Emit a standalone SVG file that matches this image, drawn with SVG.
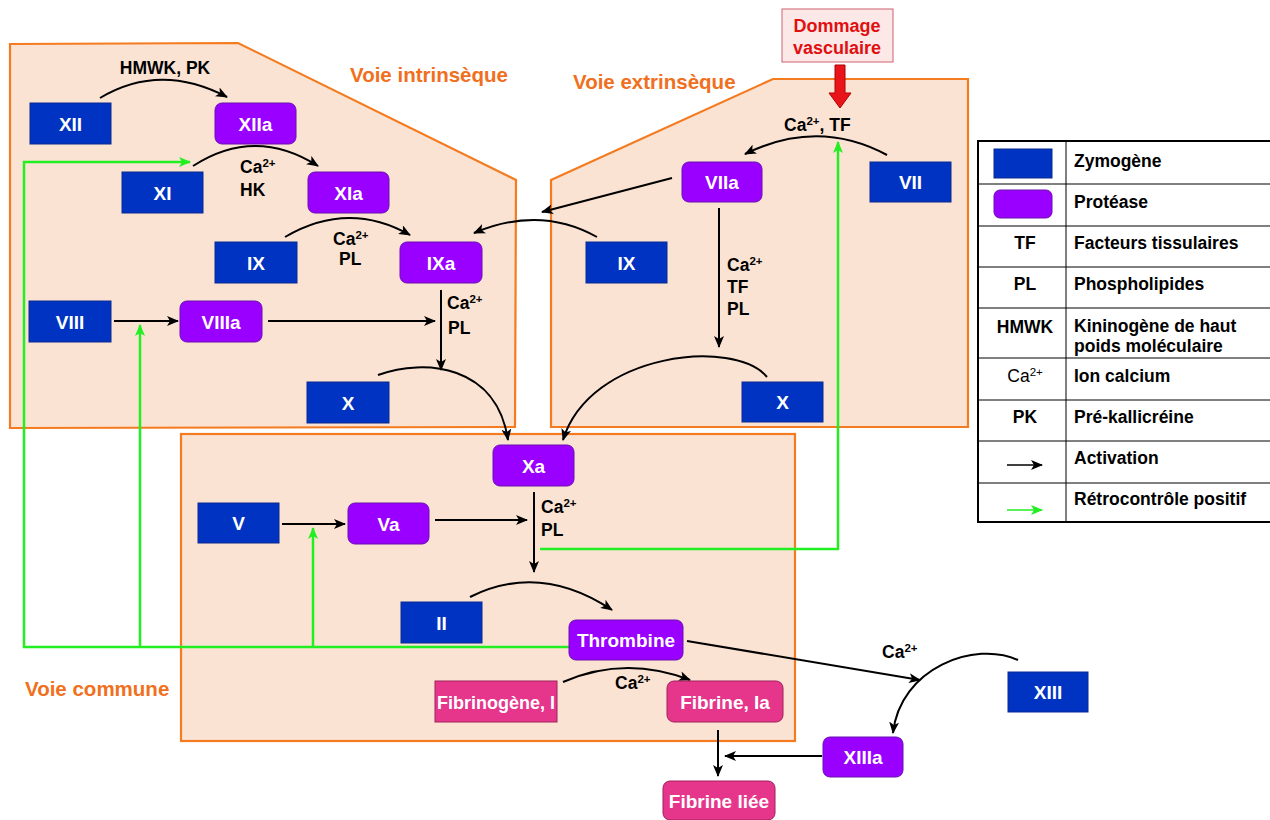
<svg xmlns="http://www.w3.org/2000/svg" width="1270" height="820" viewBox="0 0 1270 820">
<defs>
<marker id="ah" viewBox="0 0 12 10" refX="11" refY="5" markerWidth="12" markerHeight="10" markerUnits="userSpaceOnUse" orient="auto">
<path d="M0,0 L12,5 L0,10 L3,5 Z" fill="#000"/>
</marker>
<marker id="ahg" viewBox="0 0 12 10" refX="11" refY="5" markerWidth="12" markerHeight="10" markerUnits="userSpaceOnUse" orient="auto">
<path d="M0,0 L12,5 L0,10 L3,5 Z" fill="#22ee22"/>
</marker>
<style>
.region{fill:#fbe3d3;stroke:#f47b20;stroke-width:2.2}
.zym{fill:#0033c2;stroke:#0a2a90;stroke-width:1}
.pro{fill:#9900ff;stroke:#6a10b0;stroke-width:1}
.fib{fill:#e6368c;stroke:#a0205a;stroke-width:1}
.bt{font-family:"Liberation Sans",Arial,sans-serif;font-weight:bold;font-size:19px;fill:#fff;text-anchor:middle}
.lb{font-family:"Liberation Sans",Arial,sans-serif;font-weight:bold;font-size:17.5px;fill:#000}
.sup{font-size:11.5px}
.ttl{font-family:"Liberation Sans",Arial,sans-serif;font-weight:bold;font-size:20.5px;fill:#f07020}
.arr{fill:none;stroke:#000;stroke-width:2;marker-end:url(#ah)}
.grn{fill:none;stroke:#22ee22;stroke-width:2.5}
.ga{marker-end:url(#ahg)}
.lg{font-family:"Liberation Sans",Arial,sans-serif;font-weight:bold;font-size:17.5px;fill:#000}
.lgl{stroke:#000;stroke-width:1}
</style>
</defs>
<rect width="1270" height="820" fill="#fff"/>

<!-- regions -->
<g id="intrinsic">
<polygon class="region" points="10,44 238,43 516,180 515,427 10,428"/>
<text class="ttl" x="350" y="82">Voie intrinsèque</text>
</g>
<g id="extrinsic">
<polygon class="region" points="551,180 773,79 968,79 968,427 551,427"/>
<text class="ttl" x="573" y="89">Voie extrinsèque</text>
</g>
<g id="common">
<rect class="region" x="181" y="434" width="614" height="307"/>
<text class="ttl" x="25" y="696">Voie commune</text>
</g>

<!-- connectors -->
<g id="connectors">
<path class="arr" d="M100,98 Q160,62 227,97"/>
<path class="arr" d="M193,166 Q255,126 318,166"/>
<path class="arr" d="M285,237 Q348,200 410,235"/>
<path class="arr" d="M597,237 Q540,205 474,233"/>
<path class="arr" d="M672,178 L542,212"/>
<path class="arr" d="M887,155 Q818,118 745,154"/>
<path class="arr" d="M719,208 L719,347"/>
<path class="arr" d="M114,321 L178,321"/>
<path class="arr" d="M268,321 L435,321"/>
<path class="arr" d="M441,290 L441,370"/>
<path class="arr" d="M378,375 C425,358 497,365 508,440"/>
<path class="arr" d="M767,377 C735,338 590,352 563,440"/>
<path class="arr" d="M282,524 L345,524"/>
<path class="arr" d="M435,520 L527,520"/>
<path class="arr" d="M534,492 L534,572"/>
<path class="arr" d="M470,597 Q540,562 612,610"/>
<path class="arr" d="M563,682 Q625,655 690,680"/>
<path class="arr" d="M687,641 L920,680"/>
<path class="arr" d="M1018,660 C975,640 900,668 893,733"/>
<path class="arr" d="M718,730 L718,776"/>
<path class="arr" d="M822,756 L725,756"/>
<!-- green feedback -->
<path class="grn ga" d="M569,647 L24,647 L24,162 L190,162"/>
<path class="grn ga" d="M140,647 L140,325"/>
<path class="grn ga" d="M313,647 L313,528"/>
<path class="grn ga" d="M540,549 L838,549 L838,142"/>
<!-- red damage arrow -->
<polygon points="835,65 845,65 845,93 851,93 840,108 829,93 835,93" fill="#e8141a" stroke="#b00000" stroke-width="1"/>
</g>

<!-- labels -->
<g id="labels">
<text class="lb" x="165" y="74" text-anchor="middle">HMWK, PK</text>
<text class="lb" x="240" y="173">Ca<tspan class="sup" dy="-6">2+</tspan></text>
<text class="lb" x="240" y="196">HK</text>
<text class="lb" x="333" y="245">Ca<tspan class="sup" dy="-6">2+</tspan></text>
<text class="lb" x="339" y="265">PL</text>
<text class="lb" x="447" y="309">Ca<tspan class="sup" dy="-6">2+</tspan></text>
<text class="lb" x="448" y="334">PL</text>
<text class="lb" x="784" y="131">Ca<tspan class="sup" dy="-6">2+</tspan><tspan dy="6">, TF</tspan></text>
<text class="lb" x="727" y="271">Ca<tspan class="sup" dy="-6">2+</tspan></text>
<text class="lb" x="727" y="293">TF</text>
<text class="lb" x="727" y="315">PL</text>
<text class="lb" x="541" y="513">Ca<tspan class="sup" dy="-6">2+</tspan></text>
<text class="lb" x="541" y="536">PL</text>
<text class="lb" x="615" y="689">Ca<tspan class="sup" dy="-6">2+</tspan></text>
<text class="lb" x="882" y="658">Ca<tspan class="sup" dy="-6">2+</tspan></text>
</g>

<!-- nodes -->
<g id="dommage">
<rect x="782" y="9" width="111" height="53" fill="#fde8e8" stroke="#d06070" stroke-width="1"/>
<text class="lb" x="837" y="32" text-anchor="middle" style="fill:#e01010;font-size:18px">Dommage</text>
<text class="lb" x="837" y="54" text-anchor="middle" style="fill:#e01010;font-size:18px">vasculaire</text>
</g>
<g id="XII"><rect class="zym" x="30" y="103" width="81" height="41"/><text class="bt" x="70.5" y="130.5">XII</text></g>
<g id="XIIa"><rect class="pro" x="215" y="103" width="81" height="41" rx="7"/><text class="bt" x="255.5" y="130.5">XIIa</text></g>
<g id="XI"><rect class="zym" x="122" y="172" width="81" height="41"/><text class="bt" x="162.5" y="199.5">XI</text></g>
<g id="XIa"><rect class="pro" x="308" y="172" width="81" height="41" rx="7"/><text class="bt" x="348.5" y="199.5">XIa</text></g>
<g id="IX-i"><rect class="zym" x="215" y="242" width="82" height="41"/><text class="bt" x="256" y="269.5">IX</text></g>
<g id="IXa"><rect class="pro" x="400" y="242" width="82" height="41" rx="7"/><text class="bt" x="441" y="269.5">IXa</text></g>
<g id="VIII"><rect class="zym" x="29" y="301" width="82" height="41"/><text class="bt" x="70" y="328.5">VIII</text></g>
<g id="VIIIa"><rect class="pro" x="180" y="301" width="82" height="41" rx="7"/><text class="bt" x="221" y="328.5">VIIIa</text></g>
<g id="X-i"><rect class="zym" x="307" y="382" width="82" height="41"/><text class="bt" x="348" y="409.5">X</text></g>
<g id="VIIa"><rect class="pro" x="682" y="162" width="80" height="40" rx="7"/><text class="bt" x="722" y="189">VIIa</text></g>
<g id="VII"><rect class="zym" x="870" y="162" width="81" height="40"/><text class="bt" x="910.5" y="189">VII</text></g>
<g id="IX-e"><rect class="zym" x="586" y="242" width="81" height="41"/><text class="bt" x="626.5" y="269.5">IX</text></g>
<g id="X-e"><rect class="zym" x="742" y="382" width="81" height="40"/><text class="bt" x="782.5" y="409">X</text></g>
<g id="Xa"><rect class="pro" x="493" y="445" width="81" height="41" rx="7"/><text class="bt" x="533.5" y="472.5">Xa</text></g>
<g id="V"><rect class="zym" x="198" y="503" width="81" height="40"/><text class="bt" x="238.5" y="530">V</text></g>
<g id="Va"><rect class="pro" x="348" y="503" width="81" height="41" rx="7"/><text class="bt" x="388.5" y="530.5">Va</text></g>
<g id="II"><rect class="zym" x="401" y="602" width="81" height="41"/><text class="bt" x="441.5" y="629.5">II</text></g>
<g id="Thrombine"><rect class="pro" x="569" y="620" width="114" height="40" rx="7"/><text class="bt" x="626" y="647">Thrombine</text></g>
<g id="Fibrinogene"><rect class="fib" x="435" y="681" width="122" height="41"/><text class="bt" x="496" y="708.5" style="font-size:18px">Fibrinogène, I</text></g>
<g id="FibrineIa"><rect class="fib" x="667" y="681" width="116" height="41" rx="7"/><text class="bt" x="725" y="708.5">Fibrine, Ia</text></g>
<g id="FibrineLiee"><rect class="fib" x="663" y="781" width="112" height="39" rx="7"/><text class="bt" x="719" y="807.5">Fibrine liée</text></g>
<g id="XIII"><rect class="zym" x="1008" y="672" width="80" height="40"/><text class="bt" x="1048" y="699">XIII</text></g>
<g id="XIIIa"><rect class="pro" x="823" y="737" width="80" height="40" rx="7"/><text class="bt" x="863" y="764">XIIIa</text></g>

<!-- legend -->
<g id="legend">
<rect x="978" y="141" width="300" height="381" fill="#fff" stroke="#000" stroke-width="2"/>
<line class="lgl" x1="1066" y1="141" x2="1066" y2="522"/>
<line class="lgl" x1="978" y1="184" x2="1270" y2="184"/>
<line class="lgl" x1="978" y1="226" x2="1270" y2="226"/>
<line class="lgl" x1="978" y1="267" x2="1270" y2="267"/>
<line class="lgl" x1="978" y1="308" x2="1270" y2="308"/>
<line class="lgl" x1="978" y1="358" x2="1270" y2="358"/>
<line class="lgl" x1="978" y1="400" x2="1270" y2="400"/>
<line class="lgl" x1="978" y1="441" x2="1270" y2="441"/>
<line class="lgl" x1="978" y1="483" x2="1270" y2="483"/>
<rect class="zym" x="994" y="149" width="58" height="29"/>
<rect class="pro" x="994" y="190" width="58" height="28" rx="6"/>
<text class="lg" x="1025" y="249" text-anchor="middle">TF</text>
<text class="lg" x="1025" y="290" text-anchor="middle">PL</text>
<text class="lg" x="1025" y="333" text-anchor="middle">HMWK</text>
<text class="lg" x="1025" y="382" text-anchor="middle" style="font-weight:normal">Ca<tspan class="sup" dy="-6">2+</tspan></text>
<text class="lg" x="1025" y="423" text-anchor="middle">PK</text>
<line x1="1007" y1="465" x2="1042" y2="465" stroke="#000" stroke-width="1.5" marker-end="url(#ah)"/>
<line x1="1007" y1="510" x2="1042" y2="510" stroke="#22ee22" stroke-width="1.5" marker-end="url(#ahg)"/>
<text class="lg" x="1074" y="167">Zymogène</text>
<text class="lg" x="1074" y="208">Protéase</text>
<text class="lg" x="1074" y="249">Facteurs tissulaires</text>
<text class="lg" x="1074" y="290">Phospholipides</text>
<text class="lg" x="1074" y="332">Kininogène de haut</text>
<text class="lg" x="1074" y="352">poids moléculaire</text>
<text class="lg" x="1074" y="382">Ion calcium</text>
<text class="lg" x="1074" y="423">Pré-kallicréine</text>
<text class="lg" x="1074" y="464">Activation</text>
<text class="lg" x="1074" y="505">Rétrocontrôle positif</text>
</g>
</svg>
